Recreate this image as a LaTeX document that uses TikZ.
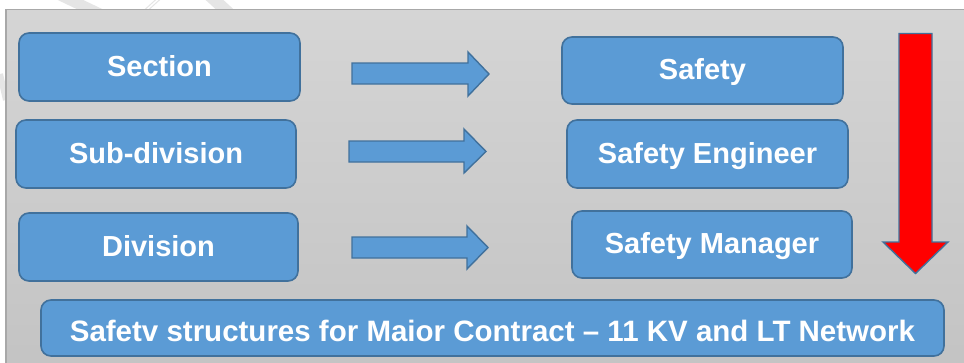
\documentclass[tikz,border=0pt]{standalone}
\usepackage{fontspec}
\setmainfont{Liberation Sans}
\begin{document}
\begin{tikzpicture}[x=1pt,y=-1pt,
  blk/.style={draw=boxedge, fill=boxfill, line width=1.6pt, rounded corners=10pt,
    text=white, font=\fontsize{29}{34}\bfseries\selectfont, inner sep=0pt,
    text height=21pt, text depth=3pt},
  barrow/.style={draw=boxedge, fill=boxfill, line width=1.4pt, line join=miter},
  rarrow/.style={draw=boxedge, fill=red, line width=1.4pt, line join=miter},
  wm/.style={draw=black!10, line cap=butt}]
\definecolor{boxfill}{HTML}{5B9BD5}
\definecolor{boxedge}{HTML}{41719C}
\definecolor{paneltop}{HTML}{D5D5D5}
\definecolor{panelbot}{HTML}{C3C3C3}
\definecolor{paneledge}{HTML}{A8A8A8}
\useasboundingbox (0,0) rectangle (964,362);
\fill[white] (0,0) rectangle (964,362);
% watermark strokes
\draw[wm, line width=11pt] (58,-6) -- (104,16);
\draw[wm, line width=1pt] (162,-6) -- (140,14);
\draw[wm, line width=1pt] (166,-6) -- (144,14);
\draw[wm, line width=12pt] (208,-6) -- (232,16);
\draw[wm, line width=6pt] (0,74) -- (6,100);
% panel
\path[top color=paneltop, bottom color=panelbot, draw=paneledge, line width=1.5pt]
  (6,9.5) rectangle (975,375);
% boxes
\node[blk, minimum width=281pt, minimum height=68pt] (sec) at (159.5,67) {Section};
\node[blk, minimum width=280pt, minimum height=68pt] (sub) at (156,154) {Sub-division};
\node[blk, minimum width=279pt, minimum height=68pt] (div) at (158.5,247) {Division};
\node[blk, minimum width=281pt, minimum height=67pt] (saf) at (702.5,70.5) {Safety};
\node[blk, minimum width=281pt, minimum height=68pt] (seng) at (707.5,154) {Safety Engineer};
\node[blk, minimum width=280pt, minimum height=67pt] (sman) at (712,244.5) {Safety Manager};
\node[blk, minimum width=903pt, minimum height=56pt, text height=26pt, text depth=0pt,
  font=\fontsize{29.5}{34}\bfseries\selectfont]
  (base) at (492.5,328) {Safetv structures for Maior Contract – 11 KV and LT Network};
% block arrows
\draw[barrow] (352,63) -- (468,63) -- (468,52) -- (489,74) -- (468,96) -- (468,84) -- (352,84) -- cycle;
\draw[barrow] (349,141) -- (464,141) -- (464,129) -- (486,151.5) -- (464,173) -- (464,162) -- (349,162) -- cycle;
\draw[barrow] (352,237) -- (467,237) -- (467,226) -- (488,247.5) -- (467,269) -- (467,258) -- (352,258) -- cycle;
% red arrow
\draw[rarrow] (899,33.5) -- (932,33.5) -- (932,242) -- (948,242) -- (915.5,273.5) -- (883,242) -- (899,242) -- cycle;
\end{tikzpicture}
\end{document}
